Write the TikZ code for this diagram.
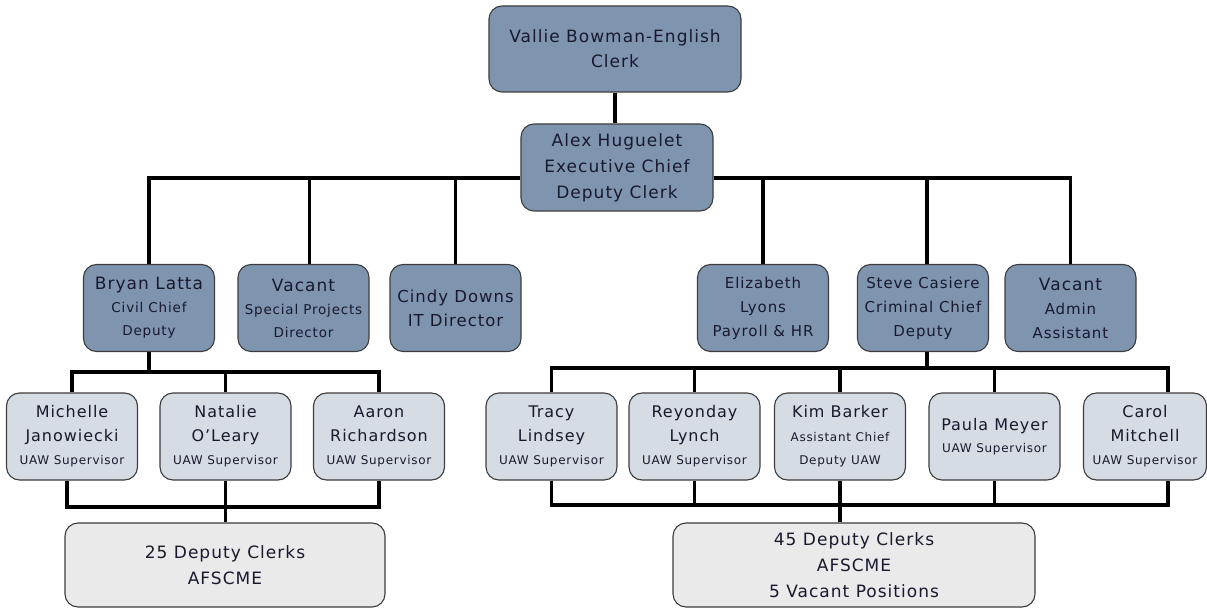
\documentclass[tikz,border=0pt]{standalone}
\usepackage{fontspec}
\setmainfont{DejaVu Sans}[LetterSpace=6]
\usetikzlibrary{positioning}

\definecolor{boss}{RGB}{127,149,175}
\definecolor{super}{RGB}{213,220,228}
\definecolor{pool}{RGB}{234,234,234}
\definecolor{edge}{RGB}{60,60,60}
\definecolor{ink}{RGB}{25,25,45}

\newcommand{\nm}[1]{{\fontsize{17}{23}\selectfont #1}}
\newcommand{\nn}[1]{{\fontsize{16}{23.5}\selectfont #1}}

\begin{document}
\begin{tikzpicture}[
  x=1pt, y=-1pt,
  box/.style   = {draw=edge, line width=1.1pt, rounded corners=13pt,
                  align=center, inner sep=0pt, text=ink},
  topbox/.style = {box, fill=boss, font=\fontsize{17}{25}\selectfont},
  chief/.style = {box, fill=boss, minimum width=131pt, minimum height=87pt,
                  font=\fontsize{13.5}{23}\selectfont},
  supbox/.style = {box, fill=super, minimum width=131pt, minimum height=87pt,
                  font=\fontsize{12}{23.5}\selectfont},
  poolbox/.style = {box, fill=pool, minimum height=84pt,
                  font=\fontsize{17}{26}\selectfont},
  conn/.style  = {line width=3.8pt, black}
]
  \useasboundingbox (0,0) rectangle (1207,609);

  % top of the office
  \node[topbox, minimum width=252pt, minimum height=86pt] (clerk) at (615,49)
    {Vallie Bowman-English\\Clerk};
  \node[topbox, minimum width=192pt, minimum height=87pt,
        font=\fontsize{17}{26}\selectfont] (alex) at (617,167.5)
    {Alex Huguelet\\Executive Chief\\Deputy Clerk};

  % second row
  \node[chief] (bryan)  at (149,308)   {\nm{Bryan Latta}\\Civil Chief\\Deputy};
  \node[chief] (spvac)  at (303.5,308) {\nm{Vacant}\\Special Projects\\Director};
  \node[chief, font=\fontsize{16.5}{24}\selectfont] (cindy) at (455.5,308)
    {Cindy Downs\\IT Director};
  \node[chief, font=\fontsize{15}{24}\selectfont] (eliz) at (763,308)
    {Elizabeth\\Lyons\\Payroll \& HR};
  \node[chief, font=\fontsize{15}{24}\selectfont] (steve) at (923,308)
    {Steve Casiere\\Criminal Chief\\Deputy};
  \node[chief, font=\fontsize{15}{24}\selectfont] (admvac) at (1070.5,308)
    {\nm{Vacant}\\Admin\\Assistant};

  % supervisors
  \node[supbox] (michelle) at (72,436.5)   {\nn{Michelle}\\\nn{Janowiecki}\\UAW Supervisor};
  \node[supbox] (natalie)  at (225.5,436.5) {\nn{Natalie}\\\nn{O’Leary}\\UAW Supervisor};
  \node[supbox] (aaron)    at (379,436.5)   {\nn{Aaron}\\\nn{Richardson}\\UAW Supervisor};
  \node[supbox] (tracy)    at (551.5,436.5) {\nn{Tracy}\\\nn{Lindsey}\\UAW Supervisor};
  \node[supbox] (reyonday) at (694.5,436.5) {\nn{Reyonday}\\\nn{Lynch}\\UAW Supervisor};
  \node[supbox] (kim)      at (840,436.5)   {\nn{Kim Barker}\\Assistant Chief\\Deputy UAW};
  \node[supbox, font=\fontsize{12}{22}\selectfont] (paula) at (994.5,436.5)
    {\nn{Paula Meyer}\\UAW Supervisor};
  \node[supbox, minimum width=123pt] (carol) at (1145,436.5)
    {\nn{Carol}\\\nn{Mitchell}\\UAW Supervisor};

  % clerk pools
  \node[poolbox, minimum width=320pt] (leftpool)  at (225,565)
    {25 Deputy Clerks\\AFSCME};
  \node[poolbox, minimum width=362pt] (rightpool) at (854,565)
    {45 Deputy Clerks\\AFSCME\\5 Vacant Positions};

  % connectors
  \coordinate (busL) at ([yshift=-10.5pt]alex.west);
  \coordinate (busR) at ([yshift=-10.5pt]alex.east);
  \coordinate (lrow)  at (0,372);
  \coordinate (lfoot) at (0,507);
  \coordinate (rrow)  at (0,368);
  \coordinate (rfoot) at (0,505);
  \coordinate (michBot)  at ([xshift=-5pt]michelle.south);
  \coordinate (carolTop) at ([xshift=23pt]carol.north);
  \coordinate (carolBot) at ([xshift=23pt]carol.south);

  \draw[conn] (clerk.south) -- (clerk.south |- alex.north);
  \draw[conn] (bryan.north) |- (busL);
  \draw[conn] ([xshift=6pt]spvac.north) -- ([xshift=6pt]spvac.north |- busL);
  \draw[conn] (cindy.north) -- (cindy.north |- busL);
  \draw[conn] (admvac.north) |- (busR);
  \draw[conn] (eliz.north) -- (eliz.north |- busR);
  \draw[conn] ([xshift=4pt]steve.north) -- ([xshift=4pt]steve.north |- busR);

  \draw[conn] (bryan.south) -- (bryan.south |- lrow);
  \draw[conn] (michelle.north) |- (aaron.north |- lrow) -- (aaron.north);
  \draw[conn] (natalie.north) -- (natalie.north |- lrow);
  \draw[conn] (michBot) |- (aaron.south |- lfoot) -- (aaron.south);
  \draw[conn] (natalie.south) -- (natalie.south |- leftpool.north);

  \draw[conn] ([xshift=4pt]steve.south) -- ([xshift=4pt]steve.south |- rrow);
  \draw[conn] (tracy.north) |- (carolTop |- rrow) -- (carolTop);
  \draw[conn] (tracy.south) |- (carolBot |- rfoot) -- (carolBot);
  \foreach \who in {reyonday,kim,paula} {
    \draw[conn] (\who.north) -- (\who.north |- rrow);
    \draw[conn] (\who.south) -- (\who.south |- rfoot);
  }
  \draw[conn] (kim.south) -- (kim.south |- rightpool.north);

\end{tikzpicture}
\end{document}
